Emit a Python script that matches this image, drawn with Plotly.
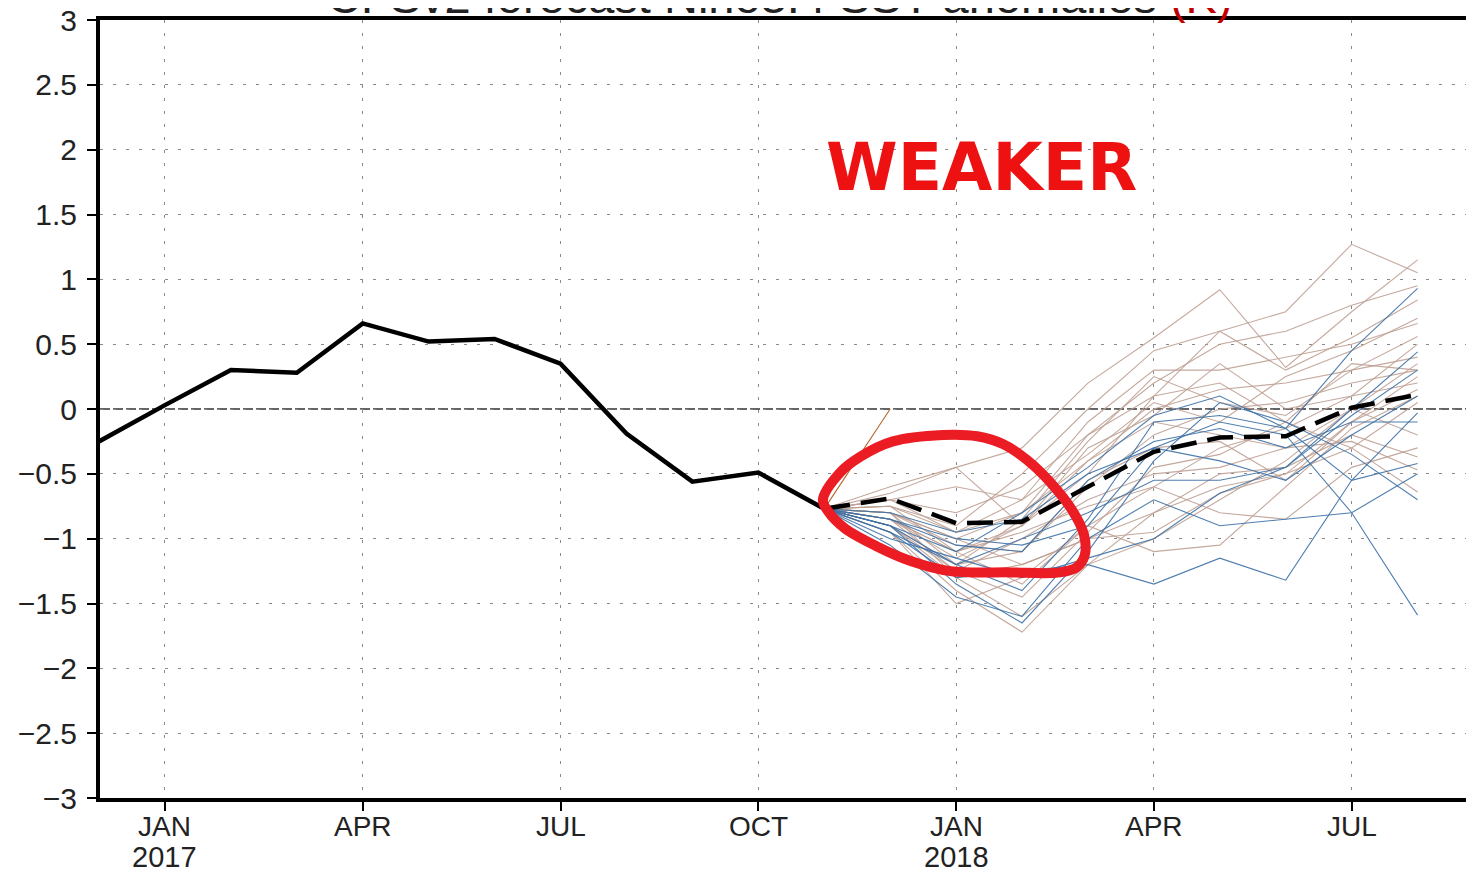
import plotly.graph_objects as go

# ---------------- data ----------------
# month index: 0 = JAN 2017
obs_months = [-1, 0, 1, 2, 3, 4, 5, 6, 7, 8, 9, 10]
obs_values = [-0.25, 0.03, 0.30, 0.28, 0.66, 0.52, 0.54, 0.35, -0.19, -0.56, -0.49, -0.77]

fc_months = [10, 11, 12, 13, 14, 15, 16, 17, 18, 19]
mean_values = [-0.77, -0.69, -0.88, -0.87, -0.60, -0.33, -0.22, -0.21, 0.01, 0.11]

start_value = -0.77
tan_members = [
    [-0.60, -0.45, -0.30, 0.20, 0.55, 0.92, 0.32, 0.75, 1.15],
    [-0.75, -0.90, -0.50, 0.00, 0.45, 0.60, 0.75, 1.27, 1.05],
    [-0.80, -1.00, -0.80, -0.20, 0.20, 0.50, 0.60, 0.80, 0.95],
    [-0.70, -0.60, -0.70, -0.10, 0.30, 0.30, 0.40, 0.50, 0.66],
    [-0.85, -1.10, -0.90, -0.40, 0.00, 0.15, 0.20, 0.30, 0.40],
    [-0.90, -1.20, -1.10, -0.60, -0.20, 0.00, 0.05, 0.20, 0.30],
    [-0.80, -1.30, -1.60, -1.20, -0.80, -0.60, -0.50, -0.10, 0.25],
    [-0.95, -1.40, -1.72, -1.20, -1.00, -0.70, -0.40, 0.00, 0.35],
    [-0.85, -1.10, -1.35, -0.90, -0.60, -0.30, -0.15, 0.10, 0.20],
    [-0.75, -0.95, -0.80, -0.40, -0.10, -0.20, -0.30, 0.00, -0.20],
    [-0.80, -1.00, -1.20, -1.00, -0.80, -0.50, -0.45, -0.20, -0.37],
    [-0.90, -1.25, -1.00, -0.70, -0.50, -0.45, -0.30, -0.25, -0.47],
    [-0.70, -0.80, -0.60, -0.20, 0.10, 0.20, -0.10, -0.30, -0.64],
    [-0.85, -1.15, -0.90, -0.30, -0.05, 0.35, 0.00, 0.10, 0.50],
    [-0.80, -1.05, -1.10, -0.55, -0.30, -0.25, -0.55, -0.10, 0.15],
    [-0.95, -1.50, -1.30, -0.90, -1.10, -1.05, -0.60, -0.15, 0.10],
    [-0.75, -1.10, -0.95, -0.75, -0.60, -0.80, -0.85, -0.45, -0.30],
    [-0.65, -0.45, -0.90, -0.50, 0.10, 0.60, 0.30, 0.55, 0.84],
    [-0.90, -1.30, -1.20, -1.00, -0.95, -0.65, -0.50, -0.30, 0.05],
    [-0.80, -1.20, -0.85, -0.25, 0.25, 0.05, -0.05, 0.30, 0.56],
    [-0.70, -0.95, -0.70, -0.35, 0.05, -0.10, 0.25, 0.45, 0.70],
    [-0.85, -1.25, -1.45, -0.95, -0.45, -0.35, -0.10, 0.35, 0.30],
]
blue_members = [
    [-0.95, -1.20, -1.40, -0.85, -0.10, -0.05, -0.15, 0.45, 0.93],
    [-0.90, -1.35, -1.65, -1.10, -0.40, 0.05, -0.10, -0.35, -0.70],
    [-0.85, -1.00, -1.05, -0.90, -0.30, -0.10, -0.20, -0.80, -1.59],
    [-1.00, -1.15, -1.30, -1.15, -1.00, -0.65, -0.45, 0.00, 0.44],
    [-0.90, -1.10, -0.80, -0.45, -0.05, 0.10, -0.15, -0.55, -0.42],
    [-0.95, -1.30, -1.25, -1.20, -1.35, -1.15, -1.32, -0.55, -0.03],
    [-0.85, -1.05, -1.10, -0.55, -0.25, -0.15, -0.30, -0.10, -0.10],
    [-1.05, -1.45, -1.60, -1.00, -0.70, -0.90, -0.85, -0.80, -0.50],
    [-0.80, -0.95, -0.85, -0.50, -0.30, -0.40, -0.55, -0.20, 0.10],
    [-0.90, -1.20, -1.00, -0.80, -0.55, -0.55, -0.45, -0.05, 0.30],
]
short_member_months = [10, 11]
short_member_values = [-0.77, 0.0]

tick_months = [0, 3, 6, 9, 12, 15, 18]
tick_labels = ["JAN", "APR", "JUL", "OCT", "JAN", "APR", "JUL"]
year_months = [0, 12]
year_labels = ["2017", "2018"]
y_ticks = [3, 2.5, 2, 1.5, 1, 0.5, 0, -0.5, -1, -1.5, -2, -2.5, -3]
y_tick_labels = [("\u2212" if v < 0 else "") + ("%g" % abs(v)) for v in y_ticks]

# hand-drawn highlight loop (month index, value)
loop_months = [9.98, 10.24, 10.54, 11.04, 11.80, 12.32, 12.71, 13.07, 13.42, 13.76, 13.94,
               13.95, 13.83, 13.58, 12.82, 11.91, 11.30, 10.80, 10.31, 10.06, 9.98]
loop_values = [-0.70, -0.49, -0.37, -0.25, -0.20, -0.21, -0.27, -0.39, -0.56, -0.78, -0.97,
               -1.13, -1.22, -1.26, -1.26, -1.25, -1.17, -1.06, -0.92, -0.79, -0.70]

# ---------------- figure ----------------
fig = go.Figure()

tan_color = "rgba(190,160,148,0.9)"
blue_color = "rgba(60,112,165,0.9)"

for vals in tan_members:
    fig.add_trace(go.Scatter(x=fc_months, y=[start_value] + vals, mode="lines",
                             line=dict(color=tan_color, width=1.1), hoverinfo="skip", showlegend=False))
for vals in blue_members:
    fig.add_trace(go.Scatter(x=fc_months, y=[start_value] + vals, mode="lines",
                             line=dict(color=blue_color, width=1.1), hoverinfo="skip", showlegend=False))
fig.add_trace(go.Scatter(x=short_member_months, y=short_member_values, mode="lines",
                         line=dict(color="#b5652a", width=1.1), hoverinfo="skip", showlegend=False))

fig.add_trace(go.Scatter(x=obs_months, y=obs_values, mode="lines",
                         line=dict(color="black", width=4.5), showlegend=False))
fig.add_trace(go.Scatter(x=fc_months, y=mean_values, mode="lines",
                         line=dict(color="black", width=4.5, dash="26px,11px"), showlegend=False))

fig.add_trace(go.Scatter(x=loop_months, y=loop_values, mode="lines",
                         line=dict(color="#ec1c24", width=10, shape="spline", smoothing=1.0),
                         hoverinfo="skip", showlegend=False))

# zero line
fig.add_shape(type="line", xref="paper", x0=0, x1=1, yref="y", y0=0, y1=0,
              line=dict(color="#333333", width=1.5, dash="10px,3px"), layer="below")

fig.add_annotation(text="<b>WEAKER</b>", xref="x", yref="y", x=12.39, y=1.86,
                   showarrow=False, font=dict(family="DejaVu Sans", size=65, color="#ee1111"))

# x tick labels (month names) and year labels under the JAN ticks
for m, lab in zip(tick_months, tick_labels):
    fig.add_annotation(text=lab, xref="x", yref="paper", x=m, y=-0.0135, xanchor="center",
                       yanchor="top", showarrow=False,
                       font=dict(family="Liberation Sans", size=28, color="#222222"))
for m, lab in zip(year_months, year_labels):
    fig.add_annotation(text=lab, xref="x", yref="paper", x=m, y=-0.0525, xanchor="center",
                       yanchor="top", showarrow=False,
                       font=dict(family="Liberation Sans", size=29, color="#222222"))

# cut-off title at top edge
fig.add_annotation(text='CFSv2 forecast Nino3.4 SST anomalies <span style="color:#c00000">(K)</span>',
                   xref="paper", yref="paper", x=0.492, y=0.9941, xanchor="center", yanchor="bottom",
                   showarrow=False, font=dict(family="Liberation Sans", size=47, color="#222222"))

grid = dict(showgrid=True, gridcolor="#8a8a8a", gridwidth=1, griddash="3px,10px")

fig.update_xaxes(range=[-0.985, 19.977], tickmode="array", tickvals=tick_months,
                 ticktext=["" for _ in tick_months],
                 showline=True, linecolor="black", linewidth=4, mirror=True,
                 ticks="outside", ticklen=9, tickwidth=1.5, tickcolor="black",
                 automargin=False, zeroline=False, **grid)
fig.update_yaxes(range=[-3, 3], tickmode="array", tickvals=y_ticks, ticktext=y_tick_labels,
                 showline=True, linecolor="black", linewidth=4, mirror=False,
                 ticks="outside", ticklen=9, tickwidth=1.5, tickcolor="black",
                 ticklabelstandoff=4, ticklabeloverflow="allow",
                 tickfont=dict(family="Liberation Sans", size=30, color="#222222"),
                 automargin=False, zeroline=False, **grid)

fig.update_layout(width=1474, height=873, margin=dict(l=92, r=0, t=12, b=83),
                  plot_bgcolor="white", paper_bgcolor="white", showlegend=False)

fig.write_html("out.html")
